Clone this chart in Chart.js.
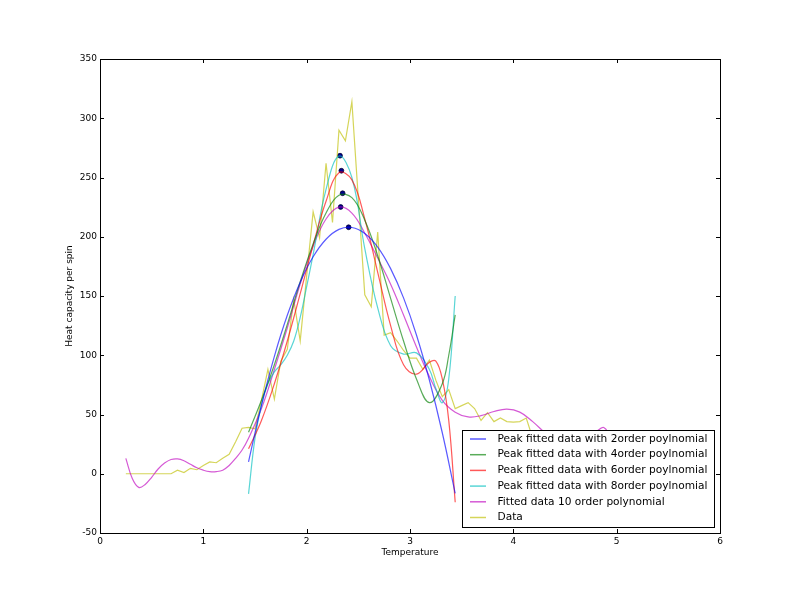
<!DOCTYPE html>
<html>
<head>
<meta charset="utf-8">
<script src="https://cdn.jsdelivr.net/npm/chart.js@4.4.1/dist/chart.umd.min.js"></script>
<style>
  html, body { margin: 0; padding: 0; background: #fff; }
  canvas { display: block; }
</style>
</head>
<body>
<canvas id="chart" width="800" height="592"></canvas>
<script>
//measured data
const temperature = [0.25, 0.3125, 0.375, 0.4375, 0.5, 0.5625, 0.625, 0.6875, 0.75, 0.8125, 0.875, 0.9375,
  1.0, 1.0625, 1.125, 1.1875, 1.25, 1.3125, 1.375, 1.4375, 1.5, 1.5625, 1.625, 1.6875, 1.75, 1.8125, 1.875, 1.9375,
  2.0, 2.0625, 2.125, 2.1875, 2.25, 2.3125, 2.375, 2.4375, 2.5, 2.5625, 2.625, 2.6875, 2.75, 2.8125, 2.875, 2.9375,
  3.0, 3.0625, 3.125, 3.1875, 3.25, 3.3125, 3.375, 3.4375, 3.5, 3.5625, 3.625, 3.6875, 3.75, 3.8125, 3.875, 3.9375,
  4.0, 4.0625, 4.125, 4.1875, 4.25, 4.3125, 4.375, 4.4375, 4.5, 4.5625, 4.625, 4.6875, 4.75, 4.8125, 4.875, 4.9375, 5.0];
const heatCapacity = [0, 0, 0, 0, 0, 0, 0, 0, 3, 1, 4.6, 3.4,
  7, 10, 9.3, 13, 16.4, 27, 38.4, 39.2, 38, 62, 88, 63, 95, 105, 147, 112,
  167, 221, 199, 262, 212, 290, 281, 314, 232, 151, 141, 204, 117, 119, 112, 104,
  97.5, 97.5, 88, 96, 79, 65, 71, 55, 57.5, 60, 55, 45, 51.5, 44, 47, 44,
  43.5, 44, 47, 30, 28, 27, 25, 24, 23, 22, 21, 20, 20, 19, 18, 18, 17];

//peak fits
const fitTemp = [1.4375, 1.5625, 1.6875, 1.8125, 1.9375, 2.0625, 2.1875, 2.3125, 2.4375, 2.5625, 2.6875, 2.8125, 2.9375, 3.0625, 3.1875, 3.3125, 3.4375];
const fit2 = [10.1, 57.9, 99.1, 133.7, 161.7, 183.1, 197.9, 206.2, 207.8, 202.8, 191.3, 173.1, 148.4, 117.1, 79.1, 34.6, -16.5];

const fit4Temp = [1.4375, 1.5625, 1.6875, 1.8125, 1.9375, 2.0625, 2.1875, 2.3125, 2.4375, 2.5625, 2.6875, 2.8125, 2.9375, 3.0625, 3.1875, 3.3125, 3.375, 3.4375];
const fit4 = [35, 62, 92, 126, 162, 194, 220, 235, 233, 214, 184, 148, 112, 80, 60, 76, 100, 134];

const fit6Temp = [1.4375, 1.5625, 1.6875, 1.8125, 1.9375, 2.0625, 2.1875, 2.3125, 2.4375, 2.5625, 2.6875, 2.8125, 2.9375, 3.0625, 3.1875, 3.25, 3.3125, 3.375, 3.4375];
const fit6 = [21, 45, 76, 112, 152, 193, 230, 254, 248, 215, 170, 125, 92, 84, 94, 95, 80, 45, -24];

const fit8Temp = [1.4375, 1.5, 1.5625, 1.625, 1.6875, 1.75, 1.8125, 1.875, 1.9375, 2.0, 2.0625, 2.1875, 2.3125, 2.4375, 2.5625, 2.6875, 2.8125, 2.9375, 3.0625, 3.1875, 3.25, 3.3125, 3.375, 3.4375];
const fit8 = [-17, 30, 58, 76, 86, 92, 100, 112, 132, 158, 185, 240, 268, 250, 190, 140, 108, 101, 102, 88, 72, 60, 80, 150];

const fit10Temp = [0.25, 0.3125, 0.375, 0.4375, 0.5, 0.5625, 0.625, 0.6875, 0.75, 0.8125, 0.875, 0.9375, 1.0, 1.0625, 1.125, 1.1875,
  1.25, 1.3125, 1.375, 1.4375, 1.5625, 1.6875, 1.8125, 1.9375, 2.0625, 2.1875, 2.3125, 2.4375, 2.5625, 2.6875, 2.8125, 2.9375,
  3.0625, 3.1875, 3.3125, 3.4375, 3.5625, 3.6875, 3.8125, 3.9375, 4.0625, 4.1875, 4.3125, 4.4375, 4.5625, 4.6875, 4.8125, 4.875, 4.9375, 5.0];
const fit10 = [13, -4, -11.5, -9, -3, 4, 9, 12, 12.5, 11, 8, 5, 3, 1.8, 1.8, 3,
  7, 13, 20, 30, 55, 88, 123, 160, 192, 215, 225, 220, 203, 182, 160, 134,
  107, 82, 62, 52, 48, 49, 52.5, 54.5, 52, 44, 34, 26, 22, 25, 36, 39, 30, 0];

//peaks of each fit
const peakTemp = [2.323, 2.336, 2.348, 2.329, 2.406];
const peakHeat = [268.4, 255.7, 236.7, 225.1, 208];

const labels = [
  'Peak fitted data with 2order poylnomial',
  'Peak fitted data with 4order poylnomial',
  'Peak fitted data with 6order poylnomial',
  'Peak fitted data with 8order poylnomial',
  'Fitted data 10 order polynomial',
  'Data'
];
const colors = [
  'rgba(0,0,255,0.65)',
  'rgba(0,128,0,0.65)',
  'rgba(255,0,0,0.65)',
  'rgba(0,191,191,0.65)',
  'rgba(191,0,191,0.65)',
  'rgba(191,191,0,0.65)'
];

const FONT = "'DejaVu Sans', sans-serif";

const zip = (xs, ys) => xs.map((x, i) => ({ x: x, y: ys[i] }));

const lineSet = (i, pts, smooth) => ({
  label: labels[i],
  data: pts,
  showLine: true,
  borderColor: colors[i],
  backgroundColor: colors[i],
  borderWidth: 1.2,
  pointRadius: 0,
  fill: false,
  tension: smooth ? 0.4 : 0
});

//frame, inner ticks, axis titles and legend on top (like matplotlib)
const framePlugin = {
  id: 'frame',
  afterDatasetsDraw(chart) {
    const ctx = chart.ctx;
    const a = chart.chartArea;
    const xs = chart.scales.x, ys = chart.scales.y;
    ctx.save();
    ctx.strokeStyle = '#000';
    ctx.lineWidth = 1;
    ctx.strokeRect(Math.round(a.left) + 0.5, Math.round(a.top) + 0.5, Math.round(a.right - a.left), Math.round(a.bottom - a.top));
    ctx.beginPath();
    for (let v = 0; v <= 6; v++) {
      const px = Math.round(xs.getPixelForValue(v)) + 0.5;
      ctx.moveTo(px, a.bottom); ctx.lineTo(px, a.bottom - 4);
      ctx.moveTo(px, a.top); ctx.lineTo(px, a.top + 4);
    }
    for (let v = -50; v <= 350; v += 50) {
      const py = Math.round(ys.getPixelForValue(v)) + 0.5;
      ctx.moveTo(a.left, py); ctx.lineTo(a.left + 4, py);
      ctx.moveTo(a.right, py); ctx.lineTo(a.right - 4, py);
    }
    ctx.stroke();

    //axis titles
    ctx.fillStyle = '#000';
    ctx.font = '9px ' + FONT;
    ctx.textAlign = 'center';
    ctx.textBaseline = 'middle';
    ctx.fillText('Temperature', (a.left + a.right) / 2, 553);
    ctx.save();
    ctx.translate(70, (a.top + a.bottom) / 2);
    ctx.rotate(-Math.PI / 2);
    ctx.fillText('Heat capacity per spin', 0, 0);
    ctx.restore();

    //legend box
    const lx = 462.5, ly = 430.5, lw = 252, lh = 97;
    ctx.fillStyle = '#fff';
    ctx.fillRect(lx, ly, lw, lh);
    ctx.strokeStyle = '#000';
    ctx.strokeRect(lx, ly, lw, lh);
    ctx.font = '10.6px ' + FONT;
    ctx.textAlign = 'left';
    for (let i = 0; i < labels.length; i++) {
      const y = 439 + i * 15.7;
      ctx.strokeStyle = colors[i];
      ctx.lineWidth = 1.5;
      ctx.beginPath();
      ctx.moveTo(470, y); ctx.lineTo(486, y);
      ctx.stroke();
      ctx.fillStyle = '#000';
      ctx.fillText(labels[i], 497.5, y);
    }
    ctx.restore();
  }
};

new Chart(document.getElementById('chart'), {
  type: 'scatter',
  plugins: [framePlugin],
  data: {
    datasets: [
      lineSet(0, zip(fitTemp, fit2), true),
      lineSet(1, zip(fit4Temp, fit4), true),
      lineSet(2, zip(fit6Temp, fit6), true),
      lineSet(3, zip(fit8Temp, fit8), true),
      lineSet(4, zip(fit10Temp, fit10), true),
      lineSet(5, zip(temperature, heatCapacity), false),
      {
        label: 'peaks',
        data: zip(peakTemp, peakHeat),
        showLine: false,
        pointRadius: 2.4,
        pointBackgroundColor: '#000090',
        pointBorderColor: '#000030',
        pointBorderWidth: 0.8
      }
    ]
  },
  options: {
    responsive: false,
    animation: false,
    devicePixelRatio: 1,
    layout: { padding: { top: 59, right: 80, left: 0, bottom: 0 } },
    plugins: { legend: { display: false }, tooltip: { enabled: false } },
    scales: {
      x: {
        type: 'linear', min: 0, max: 6,
        ticks: { stepSize: 1, color: '#000', padding: 3, maxRotation: 0, font: { family: FONT, size: 9 } },
        grid: { display: false, drawTicks: false },
        border: { display: false },
        afterFit: (s) => { s.height = 59; }
      },
      y: {
        min: -50, max: 350,
        ticks: { stepSize: 50, color: '#000', padding: 3, font: { family: FONT, size: 9 } },
        grid: { display: false, drawTicks: false },
        border: { display: false },
        afterFit: (s) => { s.width = 100; }
      }
    }
  }
});
</script>
</body>
</html>
